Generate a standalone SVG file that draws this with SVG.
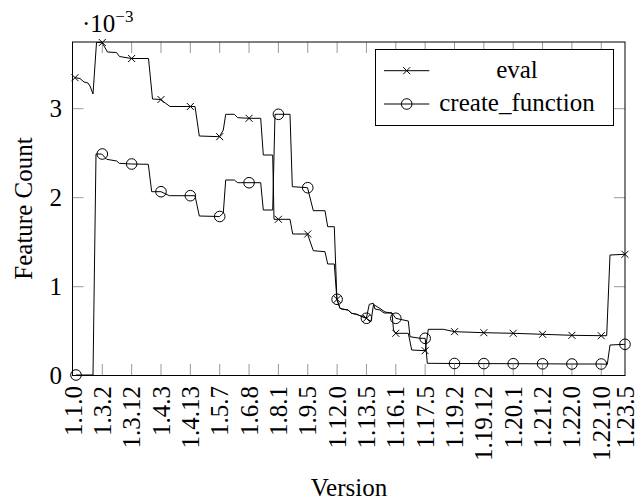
<svg xmlns="http://www.w3.org/2000/svg" xmlns:xlink="http://www.w3.org/1999/xlink" width="642" height="502" viewBox="0 0 642 502">
<style>
text{font-family:"Liberation Serif","Times New Roman",serif;font-size:25px;fill:#000}
.tick{stroke:#999;stroke-width:1;fill:none}
.axis{stroke:#000;stroke-width:1;fill:none}
.series{stroke:#000;stroke-width:1;fill:none;stroke-linejoin:round}
.mk{stroke:#000;stroke-width:1;fill:none}
</style>
<defs>
<path id="mx" class="mk" d="M-3.5,-3.5L3.5,3.5M-3.5,3.5L3.5,-3.5"/>
<circle id="mo" class="mk" r="5.3"/>
</defs>
<rect width="642" height="502" fill="#fff"/>
<g id="ticks" class="tick">
<path d="M102.3,375V364M131.65,375V364M161,375V364M190.35,375V364M219.7,375V364M249.05,375V364M278.4,375V364M307.75,375V364M337.1,375V364M366.45,375V364M395.8,375V364M425.15,375V364M454.5,375V364M483.85,375V364M513.2,375V364M542.55,375V364M571.9,375V364M601.25,375V364"/>
<path d="M102.3,42V53M131.65,42V53M161,42V53M190.35,42V53M219.7,42V53M249.05,42V53M278.4,42V53M307.75,42V53M337.1,42V53M366.45,42V53M395.8,42V53M425.15,42V53M454.5,42V53M483.85,42V53M513.2,42V53M542.55,42V53M571.9,42V53M601.25,42V53"/>
<path d="M72.5,286.7H83.5M72.5,197.7H83.5M72.5,108.7H83.5M625,286.7H614M625,197.7H614M625,108.7H614"/>
</g>
<g id="connectors">
<polyline id="eval-line" class="series" points="75,77.7 80,78.5 84,82 88,83 90,86 93,94 96.5,42.5 102,42.5 107.5,52 116.5,52.5 119.5,56.5 131.5,58.5 148.5,58.5 152.5,99 160.5,99.5 170,106.5 195,106.5 199.3,136 219.5,136.7 223.3,130 225.7,114.3 234.3,114.3 237.7,117.7 249,118.3 260.7,118.3 263.3,155 272.7,155 274,219.3 278.4,219.3 290,219.3 292.7,234 307.5,234 313.3,250.7 325,251.7 327.7,264 334.3,264 336.9,299.3 340,308.3 342,309 348,310 351.7,313.3 356.7,314.3 366.3,318.3 369.3,304.3 373.3,303.3 375,309 380,310 384,313 392,313 393.5,330 395.8,333.3 408.3,333.3 411.7,350 425.2,350.7 428.3,329.3 443.3,329.3 454.5,331.7 483.9,332.7 513.2,333.3 542.6,334.3 571.9,335.3 601.3,335.7 606.7,335.7 610,255 625,254.3"/>
<polyline id="create-function-line" class="series" points="76,375 93,375 96,154 101.7,154 106.7,159.3 116.7,161 119.3,163.3 131.5,164 148.3,164.3 151.7,191.7 161,191.7 169.3,195.7 195,195.7 199.3,216 219.5,216.5 223.3,213 225.7,180 234.3,180 237.7,182.7 249,182.7 260.7,182.7 263.3,210 272.7,210 275,114.3 278.4,114.3 290,114.3 292.3,186.7 307.5,187.7 313.3,210.7 325,210.7 327.7,226.7 334.3,226.7 336.9,299.3 340,308.3 342,309 348,310 351.7,313.3 356.7,314.3 366.3,318.3 371,321.5 373.5,304.5 376,306 380,308.5 385,312 392,313 395.8,318.3 400,319.3 408.3,321 410,336.7 420,338.3 425.2,338.3 427.3,363.3 454.5,363.5 483.9,363.6 513.2,363.7 542.6,363.8 571.9,364 601.3,364 607.3,364.3 610,345 625,344.3"/>
</g>
<g id="eval-markers">
<use href="#mx" x="75" y="77.7"/><use href="#mx" x="102.3" y="42.5"/><use href="#mx" x="131.65" y="58.5"/><use href="#mx" x="161" y="99.5"/><use href="#mx" x="190.35" y="106.5"/><use href="#mx" x="219.7" y="136.7"/><use href="#mx" x="249.05" y="118.3"/><use href="#mx" x="278.4" y="219.3"/><use href="#mx" x="307.75" y="234"/><use href="#mx" x="337.1" y="299.3"/><use href="#mx" x="366.45" y="318.3"/><use href="#mx" x="395.8" y="333.3"/><use href="#mx" x="425.15" y="350.7"/><use href="#mx" x="454.5" y="331.7"/><use href="#mx" x="483.85" y="332.7"/><use href="#mx" x="513.2" y="333.3"/><use href="#mx" x="542.55" y="334.3"/><use href="#mx" x="571.9" y="335.3"/><use href="#mx" x="601.25" y="335.7"/><use href="#mx" x="625" y="254.3"/>
</g>
<g id="create-function-markers">
<use href="#mo" x="76" y="375"/><use href="#mo" x="102.3" y="154"/><use href="#mo" x="131.65" y="164"/><use href="#mo" x="161" y="191.7"/><use href="#mo" x="190.35" y="195.7"/><use href="#mo" x="219.7" y="216.5"/><use href="#mo" x="249.05" y="182.7"/><use href="#mo" x="278.4" y="114.3"/><use href="#mo" x="307.75" y="187.7"/><use href="#mo" x="337.1" y="299.3"/><use href="#mo" x="366.45" y="318.3"/><use href="#mo" x="395.8" y="318.3"/><use href="#mo" x="425.15" y="338.3"/><use href="#mo" x="454.5" y="363.5"/><use href="#mo" x="483.85" y="363.6"/><use href="#mo" x="513.2" y="363.7"/><use href="#mo" x="542.55" y="363.8"/><use href="#mo" x="571.9" y="364"/><use href="#mo" x="601.25" y="364"/><use href="#mo" x="625" y="344.3"/>
</g>
<g id="axis-frame">
<rect class="axis" x="72.5" y="42" width="552.5" height="333.5"/>
</g>
<g id="y-labels" text-anchor="end">
<text x="62" y="383.5">0</text>
<text x="62" y="294.7">1</text>
<text x="62" y="205.7">2</text>
<text x="62" y="116.7">3</text>
</g>
<g id="scale-label">
<text x="82" y="31.5">·10<tspan dy="-10" font-size="17">−3</tspan></text>
</g>
<g id="x-labels" text-anchor="end">
<text transform="translate(82,386) rotate(-90)">1.1.0</text>
<text transform="translate(110.8,386) rotate(-90)">1.3.2</text>
<text transform="translate(140.15,386) rotate(-90)">1.3.12</text>
<text transform="translate(169.5,386) rotate(-90)">1.4.3</text>
<text transform="translate(198.85,386) rotate(-90)">1.4.13</text>
<text transform="translate(228.2,386) rotate(-90)">1.5.7</text>
<text transform="translate(257.55,386) rotate(-90)">1.6.8</text>
<text transform="translate(286.9,386) rotate(-90)">1.8.1</text>
<text transform="translate(316.25,386) rotate(-90)">1.9.5</text>
<text transform="translate(345.6,386) rotate(-90)">1.12.0</text>
<text transform="translate(374.95,386) rotate(-90)">1.13.5</text>
<text transform="translate(404.3,386) rotate(-90)">1.16.1</text>
<text transform="translate(433.65,386) rotate(-90)">1.17.5</text>
<text transform="translate(463,386) rotate(-90)">1.19.2</text>
<text transform="translate(492.35,386) rotate(-90)">1.19.12</text>
<text transform="translate(521.7,386) rotate(-90)">1.20.1</text>
<text transform="translate(551.05,386) rotate(-90)">1.21.2</text>
<text transform="translate(580.4,386) rotate(-90)">1.22.0</text>
<text transform="translate(609.75,386) rotate(-90)">1.22.10</text>
<text transform="translate(633.5,386) rotate(-90)">1.23.5</text>
</g>
<g id="axis-titles" text-anchor="middle">
<text x="349" y="496">Version</text>
<text transform="translate(31.5,208.5) rotate(-90)">Feature Count</text>
</g>
<g id="legend">
<rect x="375.5" y="49.5" width="238" height="76" fill="#fff" stroke="#000" stroke-width="1"/>
<path class="series" d="M384,70.7H429.3M384,104H429.3"/>
<use href="#mx" x="406.7" y="70.7"/>
<use href="#mo" x="406.7" y="104"/>
<text x="517" y="78" text-anchor="middle">eval</text>
<text x="517" y="111" text-anchor="middle" font-size="26">create_function</text>
</g>
</svg>
